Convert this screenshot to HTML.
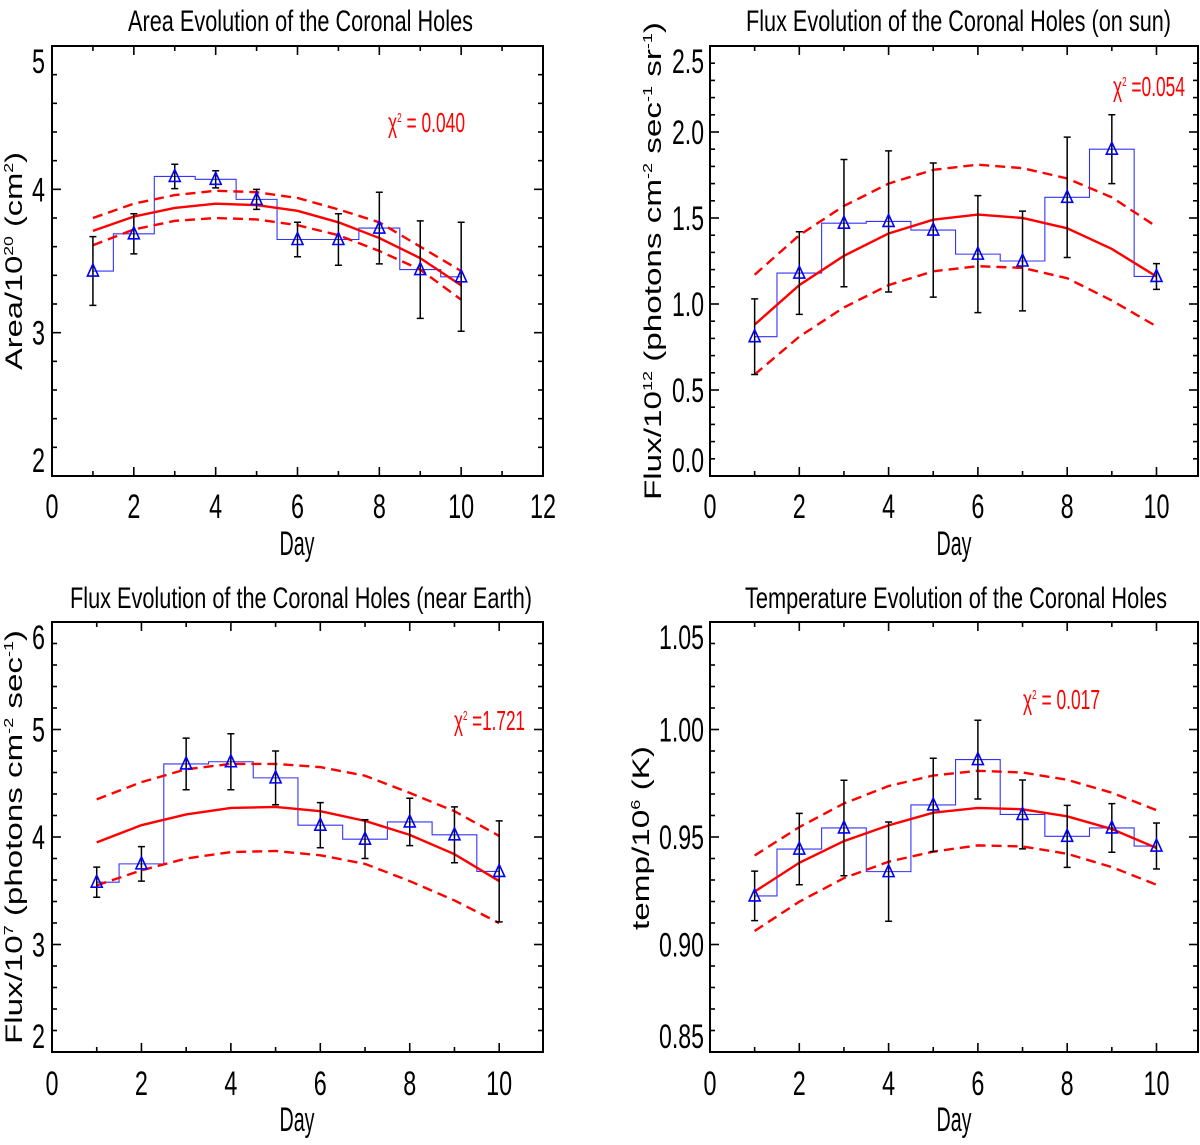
<!DOCTYPE html>
<html><head><meta charset="utf-8"><style>
html,body{margin:0;padding:0;background:#fff;}
svg{display:block;}
.ttl{font-family:"Liberation Sans Narrow","Liberation Sans",sans-serif;font-size:30px;fill:#000;}
.yt{font-family:"Liberation Sans",sans-serif;font-size:24px;fill:#000;}
.chi{font-family:"Liberation Sans Narrow","Liberation Sans",sans-serif;font-size:28px;fill:#f00;}
.tk{font-family:"Liberation Sans Narrow","Liberation Sans",sans-serif;font-size:34px;fill:#000;}
</style></head><body>
<svg id="fig" width="1200" height="1145" viewBox="0 0 1200 1145" xmlns="http://www.w3.org/2000/svg">
<rect width="1200" height="1145" fill="#fff"/>
<text class="ttl" x="128" y="31" textLength="345" lengthAdjust="spacingAndGlyphs">Area Evolution of the Coronal Holes</text>
<text class="ttl" x="746" y="31" textLength="425" lengthAdjust="spacingAndGlyphs">Flux Evolution of the Coronal Holes (on sun)</text>
<text class="ttl" x="70" y="608" textLength="462" lengthAdjust="spacingAndGlyphs">Flux Evolution of the Coronal Holes (near Earth)</text>
<text class="ttl" x="745" y="608" textLength="422" lengthAdjust="spacingAndGlyphs">Temperature Evolution of the Coronal Holes</text>

<text class="yt" x="22" y="261" text-anchor="middle" transform="rotate(-90 22 261)" textLength="218" lengthAdjust="spacingAndGlyphs">Area/10<tspan dy="-9" font-size="13">20</tspan><tspan dy="9"> (cm</tspan><tspan dy="-9" font-size="13">2</tspan><tspan dy="9">)</tspan></text>
<text class="yt" x="661" y="261" text-anchor="middle" transform="rotate(-90 661 261)" textLength="478" lengthAdjust="spacingAndGlyphs">Flux/10<tspan dy="-9" font-size="13">12</tspan><tspan dy="9"> (photons cm</tspan><tspan dy="-9" font-size="13">-2</tspan><tspan dy="9"> sec</tspan><tspan dy="-9" font-size="13">-1</tspan><tspan dy="9"> sr</tspan><tspan dy="-9" font-size="13">-1</tspan><tspan dy="9">)</tspan></text>
<text class="yt" x="22" y="837" text-anchor="middle" transform="rotate(-90 22 837)" textLength="414" lengthAdjust="spacingAndGlyphs">Flux/10<tspan dy="-9" font-size="13">7</tspan><tspan dy="9"> (photons cm</tspan><tspan dy="-9" font-size="13">-2</tspan><tspan dy="9"> sec</tspan><tspan dy="-9" font-size="13">-1</tspan><tspan dy="9">)</tspan></text>
<text class="yt" x="649" y="838" text-anchor="middle" transform="rotate(-90 649 838)" textLength="184" lengthAdjust="spacingAndGlyphs">temp/10<tspan dy="-9" font-size="13">6</tspan><tspan dy="9"> (K)</tspan></text>

<text class="chi" x="388" y="132" textLength="77" lengthAdjust="spacingAndGlyphs">χ<tspan dy="-10" font-size="13">2</tspan><tspan dy="10"> = 0.040</tspan></text>
<text class="chi" x="1113" y="96" textLength="72" lengthAdjust="spacingAndGlyphs">χ<tspan dy="-10" font-size="13">2</tspan><tspan dy="10"> =0.054</tspan></text>
<text class="chi" x="454" y="730" textLength="71" lengthAdjust="spacingAndGlyphs">χ<tspan dy="-10" font-size="13">2</tspan><tspan dy="10"> =1.721</tspan></text>
<text class="chi" x="1023" y="709" textLength="77" lengthAdjust="spacingAndGlyphs">χ<tspan dy="-10" font-size="13">2</tspan><tspan dy="10"> = 0.017</tspan></text>

<text class="tk" x="297" y="555" text-anchor="middle" textLength="35" lengthAdjust="spacingAndGlyphs">Day</text>
<text class="tk" x="954" y="555" text-anchor="middle" textLength="35" lengthAdjust="spacingAndGlyphs">Day</text>
<text class="tk" x="297" y="1131" text-anchor="middle" textLength="35" lengthAdjust="spacingAndGlyphs">Day</text>
<text class="tk" x="954" y="1131" text-anchor="middle" textLength="35" lengthAdjust="spacingAndGlyphs">Day</text>
</svg>
<script>
// ---- data ----
const days = [1,2,3,4,5,6,7,8,9,10];

const areaValues = [3.43,3.69,4.09,4.07,3.93,3.65,3.65,3.73,3.44,3.39];
const areaErrors = [0.24,0.14,0.085,0.06,0.07,0.12,0.18,0.25,0.34,0.38];
const areaFit    = [3.71,3.81,3.87,3.90,3.89,3.85,3.77,3.66,3.52,3.33];
const areaUpper  = [3.80,3.90,3.96,3.99,3.98,3.94,3.86,3.77,3.60,3.43];
const areaLower  = [3.61,3.72,3.78,3.80,3.79,3.75,3.68,3.57,3.44,3.23];
const areaXTicks = [0,2,4,6,8,10,12];
const areaYTicks = [2,3,4,5];
const areaYTickLabels = ['2','3','4','5'];

const sunValues = [0.81,1.18,1.47,1.48,1.43,1.29,1.25,1.62,1.90,1.16];
const sunErrors = [0.22,0.24,0.37,0.41,0.39,0.34,0.29,0.35,0.20,0.075];
const sunFit    = [0.88,1.11,1.28,1.41,1.49,1.52,1.50,1.44,1.32,1.16];
const sunUpper  = [1.17,1.40,1.57,1.70,1.78,1.81,1.79,1.73,1.62,1.45];
const sunLower  = [0.59,0.81,0.98,1.11,1.19,1.22,1.21,1.15,1.02,0.87];
const sunXTicks = [0,2,4,6,8,10];
const sunYTicks = [0,0.5,1.0,1.5,2.0,2.5];
const sunYTickLabels = ['0.0','0.5','1.0','1.5','2.0','2.5'];

const earthValues = [3.58,3.75,4.68,4.70,4.55,4.11,3.98,4.14,4.02,3.68];
const earthErrors = [0.14,0.16,0.24,0.26,0.25,0.21,0.18,0.22,0.26,0.47];
const earthFit    = [3.95,4.11,4.21,4.27,4.28,4.24,4.15,4.02,3.84,3.59];
const earthUpper  = [4.35,4.51,4.63,4.68,4.68,4.65,4.57,4.41,4.24,4.01];
const earthLower  = [3.55,3.69,3.80,3.86,3.87,3.83,3.75,3.59,3.41,3.20];
const earthXTicks = [0,2,4,6,8,10];
const earthYTicks = [2,3,4,5,6];
const earthYTickLabels = ['2','3','4','5','6'];

const tempValues = [0.9226,0.9444,0.9542,0.9339,0.9649,0.9860,0.9605,0.9503,0.9542,0.9458];
const tempErrors = [0.0115,0.0166,0.0222,0.0231,0.0217,0.0183,0.0160,0.0144,0.0113,0.0107];
const tempFit    = [0.9246,0.9380,0.9481,0.9554,0.9613,0.9635,0.9629,0.9596,0.9537,0.9449];
const tempUpper  = [0.9414,0.9546,0.9656,0.9737,0.9786,0.9808,0.9800,0.9766,0.9706,0.9625];
const tempLower  = [0.9063,0.9199,0.9309,0.9385,0.9432,0.9461,0.9456,0.9422,0.9360,0.9278];
const tempXTicks = [0,2,4,6,8,10];
const tempYTicks = [0.85,0.90,0.95,1.00,1.05];
const tempYTickLabels = ['0.85','0.90','0.95','1.00','1.05'];

// ---- drawing ----
const NS = 'http://www.w3.org/2000/svg';
const svg = document.getElementById('fig');
function mk(tag, attrs, parent){
  const e = document.createElementNS(NS, tag);
  for (const k in attrs) e.setAttribute(k, attrs[k]);
  parent.appendChild(e);
  return e;
}
function labelLen(s){ let n=0; for (const c of s) n += (c==='.') ? 6 : 13; return n; }

function panel(p){
  const g = mk('g', {}, svg);
  
  
  const sx = v => p.x0 + (v - p.xmin) / (p.xmax - p.xmin) * (p.x1 - p.x0);
  const sy = v => p.y1 - (v - p.ymin) / (p.ymax - p.ymin) * (p.y1 - p.y0);

  for (let v = p.xmin; v <= p.xmax + 1e-9; v += p.xminor) {
    const major = Math.abs(v / p.xmajor - Math.round(v / p.xmajor)) < 1e-6;
    const L = major ? 9 : 5;
    const X = sx(v);
    const t1 = mk('line', {x1:X, y1:p.y1, x2:X, y2:p.y1 - L, stroke:'#000', 'stroke-width':1.6}, g);
    
    
    const t2 = mk('line', {x1:X, y1:p.y0, x2:X, y2:p.y0 + L, stroke:'#000', 'stroke-width':1.6}, g);
    
    
  }
  const nY = Math.round((p.ymax - p.ymin) / p.yminor);
  for (let i = 0; i <= nY; i++) {
    const v = p.ymin + i * p.yminor;
    const major = i % 5 === 0;
    const L = major ? 9 : 5;
    const Y = sy(v);
    const t1 = mk('line', {x1:p.x0, y1:Y, x2:p.x0 + L, y2:Y, stroke:'#000', 'stroke-width':1.6}, g);
    
    
    const t2 = mk('line', {x1:p.x1, y1:Y, x2:p.x1 - L, y2:Y, stroke:'#000', 'stroke-width':1.6}, g);
    
    
  }
  p.xTicks.forEach(v => {
    const s = String(v);
    const t = mk('text', {x:sx(v), y:p.xLabelY, 'text-anchor':'middle', class:'tk', textLength:labelLen(s), lengthAdjust:'spacingAndGlyphs'}, g);
    t.textContent = s;
    
    
  });
  p.yTicks.forEach((v, i) => {
    const s = p.yLabels[i];
    let c = sy(v);
    if (Math.abs(v - p.ymax) < 1e-9) c = p.y0 + 15;
    if (Math.abs(v - p.ymin) < 1e-9) c = p.y1 - 16;
    const t = mk('text', {x:p.yLabelX, y:c + 12, 'text-anchor':'end', class:'tk', textLength:labelLen(s), lengthAdjust:'spacingAndGlyphs'}, g);
    t.textContent = s;
    
    
  });

  let d = 'M' + sx(p.days[0]) + ' ' + sy(p.vals[0]);
  p.days.forEach((x, i) => {
    const left = i === 0 ? x : x - 0.5;
    const right = i === p.days.length - 1 ? x : x + 0.5;
    d += ' L' + sx(left) + ' ' + sy(p.vals[i]) + ' L' + sx(right) + ' ' + sy(p.vals[i]);
  });
  const step = mk('path', {d:d, fill:'none', stroke:'#3333ff', 'stroke-width':1.1}, g);
  
  

  const line = arr => arr.map((v, i) => (i ? 'L' : 'M') + sx(p.days[i]) + ' ' + sy(v)).join(' ');
  const fit = mk('path', {d:line(p.fit), fill:'none', stroke:'#ff0000', 'stroke-width':2.4}, g);
  
  
  const up = mk('path', {d:line(p.upper), fill:'none', stroke:'#ff0000', 'stroke-width':2.4, 'stroke-dasharray':'10 6'}, g);
  
  
  const lo = mk('path', {d:line(p.lower), fill:'none', stroke:'#ff0000', 'stroke-width':2.4, 'stroke-dasharray':'10 6'}, g);
  
  

  p.days.forEach((x, i) => {
    const X = sx(x), ya = sy(p.vals[i] + p.errs[i]), yb = sy(p.vals[i] - p.errs[i]);
    const eb = mk('path', {d:'M'+X+' '+ya+' L'+X+' '+yb+' M'+(X-3.5)+' '+ya+' L'+(X+3.5)+' '+ya+' M'+(X-3.5)+' '+yb+' L'+(X+3.5)+' '+yb, stroke:'#000', 'stroke-width':1.5, fill:'none'}, g);
    
    
    const Y = sy(p.vals[i]);
    const tri = mk('path', {d:'M'+X+' '+(Y-7)+' L'+(X+5.5)+' '+(Y+5)+' L'+(X-5.5)+' '+(Y+5)+' Z', fill:'none', stroke:'#0000ff', 'stroke-width':1.6}, g);
    
    
  });

  const fr = mk('rect', {x:p.x0, y:p.y0, width:p.x1 - p.x0, height:p.y1 - p.y0, fill:'none', stroke:'#000', 'stroke-width':2}, g);
  
  
}

panel({name:'area', x0:52, x1:543, y0:46, y1:476, xmin:0, xmax:12, ymin:2, ymax:5, xmajor:2, xminor:1, yminor:0.2,
  xTicks:areaXTicks, yTicks:areaYTicks, yLabels:areaYTickLabels, xLabelY:518, yLabelX:45,
  days:days, vals:areaValues, errs:areaErrors, fit:areaFit, upper:areaUpper, lower:areaLower});
panel({name:'flux-sun', x0:710, x1:1198, y0:46, y1:476, xmin:0, xmax:10.93, ymin:0, ymax:2.5, xmajor:2, xminor:1, yminor:0.1,
  xTicks:sunXTicks, yTicks:sunYTicks, yLabels:sunYTickLabels, xLabelY:518, yLabelX:704,
  days:days, vals:sunValues, errs:sunErrors, fit:sunFit, upper:sunUpper, lower:sunLower});
panel({name:'flux-earth', x0:52, x1:543, y0:622, y1:1052, xmin:0, xmax:10.98, ymin:2, ymax:6, xmajor:2, xminor:1, yminor:0.2,
  xTicks:earthXTicks, yTicks:earthYTicks, yLabels:earthYTickLabels, xLabelY:1095, yLabelX:45,
  days:days, vals:earthValues, errs:earthErrors, fit:earthFit, upper:earthUpper, lower:earthLower});
panel({name:'temp', x0:710, x1:1198, y0:622, y1:1052, xmin:0, xmax:10.93, ymin:0.85, ymax:1.05, xmajor:2, xminor:1, yminor:0.01,
  xTicks:tempXTicks, yTicks:tempYTicks, yLabels:tempYTickLabels, xLabelY:1095, yLabelX:704,
  days:days, vals:tempValues, errs:tempErrors, fit:tempFit, upper:tempUpper, lower:tempLower});
</script>
</body></html>
